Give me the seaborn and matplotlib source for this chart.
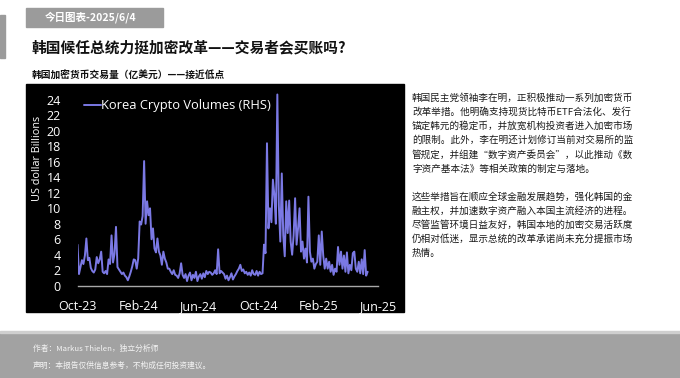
import matplotlib
matplotlib.use("Agg")
import matplotlib.pyplot as plt
import pandas as pd
import seaborn as sns
from matplotlib.patches import Rectangle

# ---------------- data ----------------
start_date = "2023-10-01"
step = "3D"
series_name = "Korea Crypto Volumes (RHS)"
volumes = [
    5.3, 1.5, 2.4, 3.3, 2.8, 3.9, 6.1, 3.3, 3.6, 2.3,
    1.9, 1.7, 2.1, 3.7, 2.9, 3.4, 4.4, 1.8, 1.6, 1.9,
    1.5, 3.4, 2.8, 6.5, 3.0, 4.1, 7.6, 2.4, 2.1, 1.8,
    1.5, 1.7, 1.3, 1.1, 0.7, 1.2, 1.8, 2.5, 3.4, 3.3,
    2.2, 3.5, 8.3, 7.9, 9.0, 16.1, 8.0, 10.9, 9.1, 10.0,
    6.0, 7.4, 4.8, 4.3, 6.1, 4.4, 3.9, 2.7, 4.4, 3.5,
    3.0, 2.2, 2.2, 1.8, 1.5, 2.0, 1.4, 1.3, 1.0, 1.6,
    2.9, 1.4, 1.0, 1.5, 0.6, 1.3, 1.7, 0.7, 1.4, 1.0,
    1.8, 0.6, 1.2, 1.5, 0.9, 1.6, 1.1, 1.9, 1.5, 1.8,
    1.7, 1.4, 1.6, 2.0, 1.5, 4.7, 1.6, 1.9, 1.7, 1.5,
    0.9, 1.3, 0.7, 1.1, 1.6, 0.8, 1.2, 1.5, 1.9, 2.2,
    2.7, 1.9, 2.1, 1.6, 1.8, 1.4, 1.7, 1.3, 2.0, 1.5,
    1.4, 1.9, 1.3, 1.8, 1.5, 1.6, 5.3, 4.2, 18.4, 7.4,
    10.0, 8.2, 13.7, 11.7, 8.0, 24.7, 10.4, 5.7, 14.5, 6.5,
    3.8, 10.9, 6.8, 11.0, 5.7, 4.0, 6.5, 11.3, 5.3, 7.4,
    10.0, 4.4, 5.7, 3.5, 4.8, 3.0, 11.5, 4.4, 3.1, 3.5,
    2.2, 2.8, 3.1, 6.5, 2.7, 7.0, 3.9, 2.2, 3.5, 2.2,
    3.1, 1.8, 2.7, 1.4, 2.2, 1.8, 5.0, 2.7, 4.4, 2.2,
    3.9, 1.8, 4.3, 1.6, 2.7, 2.0, 4.2, 4.4, 2.2, 1.8,
    3.1, 1.6, 3.4, 1.5, 4.6, 1.3, 1.8,
]
tick_dates = ["2023-10-01", "2024-02-01", "2024-06-01",
              "2024-10-01", "2025-02-01", "2025-06-01"]
tick_labels = ["Oct-23", "Feb-24", "Jun-24", "Oct-24", "Feb-25", "Jun-25"]
y_ticks = [0, 2, 4, 6, 8, 10, 12, 14, 16, 18, 20, 22, 24]

header = "今日图表-2025/6/4"
title = "韩国候任总统力挺加密改革——交易者会买账吗?"
subtitle = "韩国加密货币交易量（亿美元）——接近低点"
y_label = "US dollar Billions"
para_lines = [
    "韩国民主党领袖李在明，正积极推动一系列加密货币",
    "改革举措。他明确支持现货比特币ETF合法化、发行",
    "锚定韩元的稳定币，并放宽机构投资者进入加密市场",
    "的限制。此外，李在明还计划修订当前对交易所的监",
    "管规定，并组建“数字资产委员会”，以此推动《数",
    "字资产基本法》等相关政策的制定与落地。",
    "",
    "这些举措旨在顺应全球金融发展趋势，强化韩国的金",
    "融主权，并加速数字资产融入本国主流经济的进程。",
    "尽管监管环境日益友好，韩国本地的加密交易活跃度",
    "仍相对低迷，显示总统的改革承诺尚未充分提振市场",
    "热情。",
]
footer_lines = ["作者：Markus Thielen，独立分析师",
                "声明：本报告仅供信息参考，不构成任何投资建议。"]

df = pd.DataFrame({
    "date": pd.date_range(start_date, periods=len(volumes), freq=step),
    "volume": volumes,
})

# ---------------- style ----------------
sns.set_style("white")
plt.rcParams["font.family"] = ["Open Sans", "Noto Sans CJK SC", "DejaVu Sans"]
CJK = ["Noto Sans CJK SC", "DejaVu Sans"]

W, H = 680, 378
fig = plt.figure(figsize=(6.8, 3.78), dpi=100)
fig.patch.set_facecolor("white")


def fx(x):
    return x / W


def fy(y):
    return 1 - y / H


def add_rect(x, y, w, h, color):
    fig.patches.append(Rectangle((fx(x), fy(y + h)), w / W, h / H,
                                 transform=fig.transFigure, color=color,
                                 zorder=-5))


# decorations
add_rect(0, 15, 5, 43, "#9b9b9b")
add_rect(26, 8, 137, 19, "#9b9b9b")
fig.text(fx(45), fy(17.5), header, family=CJK, fontsize=7.6, fontweight="bold",
         color="white", va="center", ha="left")
fig.text(fx(32), fy(47), title, family=CJK, fontsize=10.6, fontweight="bold",
         color="#111111", va="center", ha="left")
fig.text(fx(32), fy(76), subtitle, family=CJK, fontsize=7, fontweight="bold",
         color="#111111", va="center", ha="left")

# black chart panel
add_rect(26, 84, 378, 228, "black")

# footer
add_rect(0, 333, 680, 45, "#a2a2a2")
add_rect(0, 331, 680, 2, "#cfcfcf")
for i, line in enumerate(footer_lines):
    fig.text(fx(33), fy(349 + i * 17), line, family=CJK, fontsize=5.6,
             color="#f4f4f4", va="center", ha="left")

# right paragraph
for i, line in enumerate(para_lines):
    if line:
        fig.text(fx(412), fy(98 + i * 14.1), line, family=CJK, fontsize=6.9,
                 color="#1a1a1a", va="center", ha="left")

# ---------------- chart ----------------
x0, x1 = 77.5, 378
y_zero, y_top = 285.7, 88.3
ax = fig.add_axes([fx(x0), fy(y_zero), (x1 - x0) / W, (y_zero - y_top) / H])
ax.set_zorder(5)
ax.set_facecolor("none")
ax.patch.set_alpha(0)

line_color = "#7b79e4"
sns.lineplot(data=df, x="date", y="volume", ax=ax, color=line_color,
             linewidth=1.4, label=series_name)

ax.set_xlim(pd.Timestamp(tick_dates[0]), pd.Timestamp(tick_dates[-1]))
ax.set_ylim(0, 25.5)
ax.set_xticks(pd.to_datetime(tick_dates))
ax.set_xticklabels(tick_labels)
ax.set_yticks(y_ticks)
ax.set_yticklabels([str(v) for v in y_ticks])
ax.tick_params(axis="both", length=0, colors="white", labelsize=9)
ax.tick_params(axis="x", pad=10)
ax.tick_params(axis="y", pad=12)
ax.set_xlabel("")
ax.set_ylabel("")
for s in ["top", "right", "left"]:
    ax.spines[s].set_visible(False)
ax.spines["bottom"].set_color("#a8a8a8")
ax.spines["bottom"].set_linewidth(1.0)
ax.grid(False)

fig.text(fx(37), fy(158), y_label, rotation=90, color="white", fontsize=7.8,
         va="center", ha="center", zorder=6)

leg = ax.legend(loc="center left", bbox_to_anchor=((84 - x0) / (x1 - x0), 0.912),
                frameon=False, handlelength=1.3, handletextpad=0.0,
                borderpad=0, borderaxespad=0, fontsize=9.3, labelcolor="white")

fig.savefig("out.png", dpi=100)
